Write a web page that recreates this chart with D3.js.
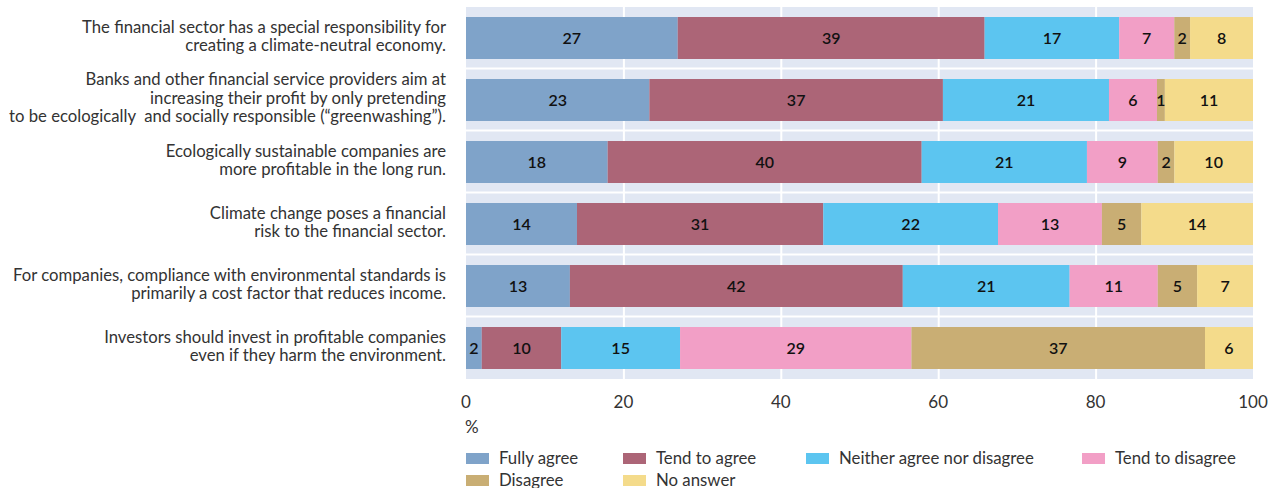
<!DOCTYPE html>
<html>
<head>
<meta charset="utf-8">
<script src="https://cdn.jsdelivr.net/npm/d3@7"></script>
<style>
  body { margin: 0; background: #fff; }
  text { font-family: Lato, "Open Sans", sans-serif; }
</style>
</head>
<body>
<svg width="1284" height="488"></svg>
<script>
const width = 1284, height = 488;

// statements (multi-line labels)
const statements = [
    ["The financial sector has a special responsibility for", "creating a climate-neutral economy."],
    ["Banks and other financial service providers aim at", "increasing their profit by only pretending", "to be ecologically  and socially responsible (\u201cgreenwashing\u201d)."],
    ["Ecologically sustainable companies are", "more profitable in the long run."],
    ["Climate change poses a financial", "risk to the financial sector."],
    ["For companies, compliance with environmental standards is", "primarily a cost factor that reduces income."],
    ["Investors should invest in profitable companies", "even if they harm the environment."]
];

const answers = ["Fully agree", "Tend to agree", "Neither agree nor disagree", "Tend to disagree", "Disagree", "No answer"];
const answerColor = ["#7fa3c9", "#ac6577", "#5cc5f0", "#f29fc6", "#c9ae74", "#f4db8b"];

// shares per statement, in answer order
const fullyAgree    = [26.9, 23.3, 18.0, 14.1, 13.2, 2.0];
const tendAgree     = [39.0, 37.3, 39.9, 31.3, 42.3, 10.1];
const neither       = [17.1, 21.1, 21.0, 22.2, 21.2, 15.1];
const tendDisagree  = [7.0, 6.1, 9.0, 13.2, 11.2, 29.4];
const disagree      = [2.0, 1.0, 2.1, 5.0, 5.0, 37.3];
const noAnswer      = [8.0, 11.2, 10.0, 14.2, 7.1, 6.1];

const xTicks = [0, 20, 40, 60, 80, 100];

const series = [fullyAgree, tendAgree, neither, tendDisagree, disagree, noAnswer];
const rows = statements.map((s, i) => {
    const r = {id: i};
    answers.forEach((a, j) => r[a] = series[j][i]);
    return r;
});

const margin = {left: 466, right: 31, top: 7, bottom: 110};

const x = d3.scaleLinear()
    .domain([0, 100])
    .range([margin.left, width - margin.right]);

const y = d3.scaleBand()
    .domain(d3.range(statements.length))
    .range([margin.top, height - margin.bottom + 1])
    .paddingInner(0)
    .paddingOuter(0);

const color = d3.scaleOrdinal().domain(answers).range(answerColor);

const svg = d3.select("svg");

// plot background
svg.append("rect")
    .attr("x", x(0))
    .attr("y", y(0))
    .attr("width", x(100) - x(0))
    .attr("height", y.step() * statements.length)
    .attr("fill", "#e1e7f3");

// vertical grid lines
svg.append("g")
    .selectAll("line")
    .data(xTicks.slice(1, -1))
    .join("line")
        .attr("x1", d => x(d) + 0.5)
        .attr("x2", d => x(d) + 0.5)
        .attr("y1", y(0))
        .attr("y2", y(0) + y.step() * statements.length)
        .attr("stroke", "#fff")
        .attr("stroke-width", 2);

// horizontal separators between rows
svg.append("g")
    .selectAll("line")
    .data(d3.range(1, statements.length))
    .join("line")
        .attr("x1", x(0))
        .attr("x2", x(100))
        .attr("y1", d => y(d) - 0.5)
        .attr("y2", d => y(d) - 0.5)
        .attr("stroke", "#fff")
        .attr("stroke-width", 2);

// stacked bars
const stacked = d3.stack().keys(answers)(rows);
const barH = 42;

const layers = svg.append("g")
    .selectAll("g")
    .data(stacked)
    .join("g")
        .attr("fill", d => color(d.key));

layers.selectAll("rect")
    .data(d => d)
    .join("rect")
        .attr("x", d => x(d[0]))
        .attr("y", d => y(d.data.id) + (y.bandwidth() - barH) / 2)
        .attr("width", d => x(d[1]) - x(d[0]))
        .attr("height", barH);

layers.selectAll("text")
    .data(d => d)
    .join("text")
        .attr("x", d => (x(d[0]) + x(d[1])) / 2)
        .attr("y", d => y(d.data.id) + y.bandwidth() / 2)
        .attr("dy", "0.36em")
        .attr("text-anchor", "middle")
        .attr("fill", "#111")
        .style("font-size", "16px")
        .style("font-weight", "600")
        .text(d => Math.round(d[1] - d[0]));

// statement labels
const lab = svg.append("g")
    .selectAll("text")
    .data(statements)
    .join("text")
        .attr("text-anchor", "end")
        .attr("fill", "#333")
        .style("font-size", "16.7px");

lab.each(function(lines, i) {
    const lh = 18.5;
    const cy = y(i) + y.bandwidth() / 2 - 2;
    d3.select(this).selectAll("tspan")
        .data(lines)
        .join("tspan")
            .attr("x", 446)
            .attr("y", (d, k) => cy + (k - (lines.length - 1) / 2) * lh)
            .attr("dy", "0.35em")
            .attr("xml:space", "preserve")
            .text(d => d);
});

// x axis labels
svg.append("g")
    .selectAll("text")
    .data(xTicks)
    .join("text")
        .attr("x", d => x(d))
        .attr("y", 402)
        .attr("dy", "0.35em")
        .attr("text-anchor", "middle")
        .attr("fill", "#333")
        .style("font-size", "17px")
        .text(d => d);

svg.append("text")
    .attr("x", x(0) - 1)
    .attr("y", 427)
    .attr("dy", "0.35em")
    .attr("fill", "#333")
    .style("font-size", "17px")
    .text("%");

// legend
const legendX = [466, 623, 806, 1082];
const legend = svg.append("g")
    .selectAll("g")
    .data(answers)
    .join("g")
        .attr("transform", (d, i) => `translate(${legendX[i % 4]}, ${458 + Math.floor(i / 4) * 22})`);

legend.append("rect")
    .attr("x", 0)
    .attr("y", -5)
    .attr("width", 23)
    .attr("height", 11)
    .attr("fill", d => color(d));

legend.append("text")
    .attr("x", 33)
    .attr("y", 0)
    .attr("dy", "0.35em")
    .attr("fill", "#333")
    .style("font-size", "16.8px")
    .text(d => d);
</script>
</body>
</html>
